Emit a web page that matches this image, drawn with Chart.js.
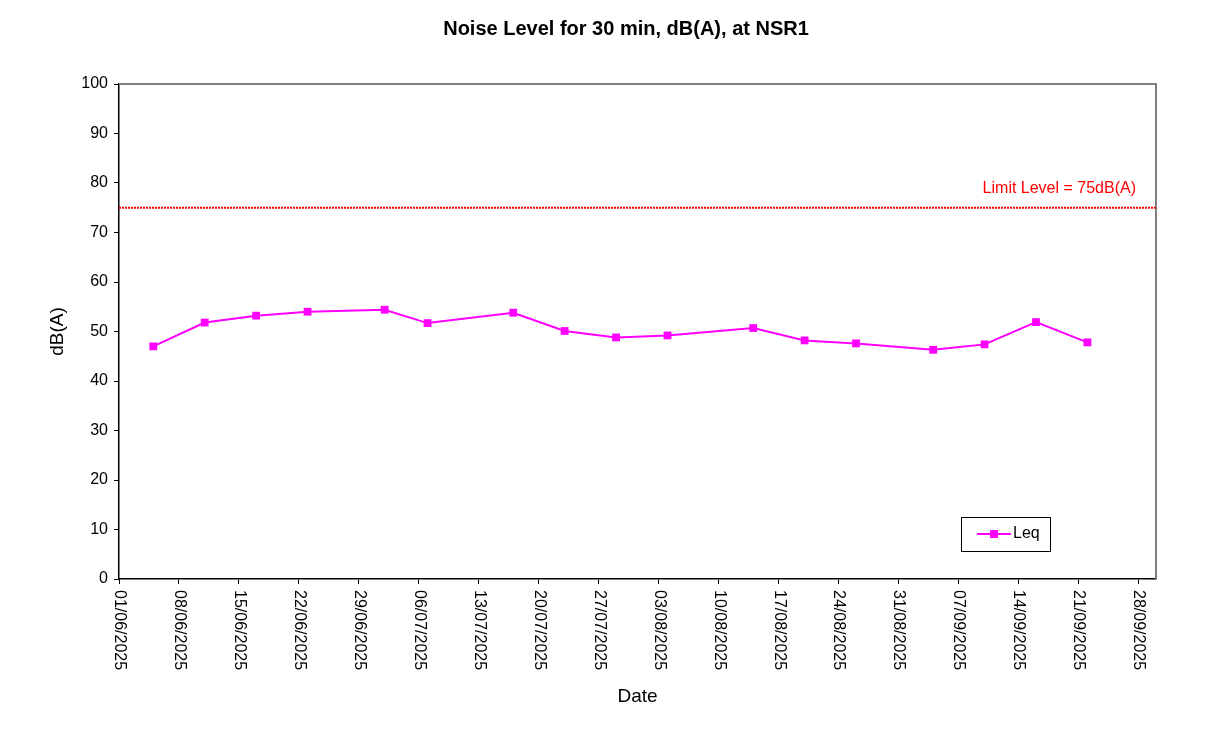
<!DOCTYPE html>
<html>
<head>
<meta charset="utf-8">
<title>Noise Level for 30 min, dB(A), at NSR1</title>
<script src="https://cdn.jsdelivr.net/npm/chart.js@4/dist/chart.umd.min.js"></script>
<style>
  html, body { margin: 0; padding: 0; background: #fff; }
  canvas { display: block; }
</style>
</head>
<body>
<canvas id="noise" width="1208" height="736"></canvas>
<script>
// data
const sampleDates = ["05/06/2025", "11/06/2025", "17/06/2025", "23/06/2025", "02/07/2025", "07/07/2025",
    "17/07/2025", "23/07/2025", "29/07/2025", "04/08/2025", "14/08/2025", "20/08/2025",
    "26/08/2025", "04/09/2025", "10/09/2025", "16/09/2025", "22/09/2025"];
const leqValues = [47.0, 51.8, 53.2, 54.0, 54.4, 51.7, 53.8, 50.1, 48.8, 49.2, 50.7, 48.2,
    47.6, 46.3, 47.4, 51.9, 47.8];
const tickLabels = ["01/06/2025", "08/06/2025", "15/06/2025", "22/06/2025", "29/06/2025", "06/07/2025",
    "13/07/2025", "20/07/2025", "27/07/2025", "03/08/2025", "10/08/2025", "17/08/2025",
    "24/08/2025", "31/08/2025", "07/09/2025", "14/09/2025", "21/09/2025", "28/09/2025"];
const axisStart = "01/06/2025";
const axisEnd = "30/09/2025";
const limitLevel = 75;
const yTicks = [0, 10, 20, 30, 40, 50, 60, 70, 80, 90, 100];

const FONT = "'Liberation Sans', Arial, sans-serif";

// dd/mm/yyyy -> days since axisStart
function toDay(s) {
    const p = s.split("/");
    const t = Date.UTC(+p[2], +p[1] - 1, +p[0]);
    const q = axisStart.split("/");
    const t0 = Date.UTC(+q[2], +q[1] - 1, +q[0]);
    return Math.round((t - t0) / 86400000);
}

const xMin = toDay(axisStart);
const xMax = toDay(axisEnd);

const leqPoints = sampleDates.map((d, i) => ({ x: toDay(d), y: leqValues[i] }));
const limitPoints = [{ x: xMin, y: limitLevel }, { x: xMax, y: limitLevel }];

const decorations = {
    id: "decorations",
    beforeDatasetsDraw(chart) {
        const ctx = chart.ctx;
        const a = chart.chartArea;
        ctx.save();
        ctx.strokeStyle = "#808080";
        ctx.lineWidth = 2;
        ctx.beginPath();
        ctx.moveTo(a.left, a.top);
        ctx.lineTo(a.right, a.top);
        ctx.lineTo(a.right, a.bottom);
        ctx.stroke();
        ctx.restore();
    },
    afterDraw(chart) {
        const ctx = chart.ctx;
        const a = chart.chartArea;
        const xs = chart.scales.x;
        const ys = chart.scales.y;
        ctx.save();

        // title
        ctx.fillStyle = "#000";
        ctx.font = "bold 20px " + FONT;
        ctx.textAlign = "center";
        ctx.textBaseline = "middle";
        ctx.fillText("Noise Level for 30 min, dB(A), at NSR1", 626, 29);

        // x tick labels, reading top to bottom
        ctx.font = "16px " + FONT;
        ctx.textAlign = "left";
        tickLabels.forEach((lab) => {
            const px = xs.getPixelForValue(toDay(lab));
            ctx.save();
            ctx.translate(px, a.bottom + 11);
            ctx.rotate(Math.PI / 2);
            ctx.fillText(lab, 0, 0);
            ctx.restore();
        });

        // limit label
        ctx.fillStyle = "#FF0000";
        ctx.textAlign = "right";
        ctx.font = "16px " + FONT;
        ctx.fillText("Limit Level = " + limitLevel + "dB(A)", 1136, ys.getPixelForValue(limitLevel) - 19);

        // legend
        const ds = chart.data.datasets[0];
        ctx.strokeStyle = "#000";
        ctx.lineWidth = 1;
        ctx.strokeRect(961.5, 517.5, 89, 34);
        ctx.strokeStyle = ds.borderColor;
        ctx.lineWidth = 2;
        ctx.beginPath();
        ctx.moveTo(977, 534);
        ctx.lineTo(1011, 534);
        ctx.stroke();
        ctx.fillStyle = ds.pointBackgroundColor;
        ctx.fillRect(990, 530, 8, 8);
        ctx.fillStyle = "#000";
        ctx.textAlign = "left";
        ctx.fillText(ds.label, 1013, 534);

        ctx.restore();
    }
};

new Chart(document.getElementById("noise"), {
    type: "line",
    data: {
        datasets: [
            {
                label: "Leq",
                data: leqPoints,
                borderColor: "#FF00FF",
                backgroundColor: "#FF00FF",
                pointBackgroundColor: "#FF00FF",
                pointBorderColor: "#FF00FF",
                borderWidth: 2,
                pointStyle: "rect",
                pointRadius: 5.5,
                pointBorderWidth: 0,
                tension: 0,
            },
            {
                label: "Limit",
                data: limitPoints,
                borderColor: "#FF0000",
                borderWidth: 2,
                borderDash: [2, 1],
                pointRadius: 0,
                tension: 0,
            },
        ],
    },
    options: {
        responsive: false,
        devicePixelRatio: 1,
        animation: false,
        layout: { padding: { left: 0, top: 84, right: 52, bottom: 28 } },
        plugins: {
            legend: { display: false },
            title: { display: false },
            tooltip: { enabled: false },
        },
        scales: {
            x: {
                type: "linear",
                min: xMin,
                max: xMax,
                afterBuildTicks: (scale) => {
                    scale.ticks = tickLabels.map((l) => ({ value: toDay(l) }));
                },
                afterFit: (scale) => { scale.height = 129; },
                ticks: { display: false },
                grid: { drawOnChartArea: false, drawTicks: true, tickLength: 5, color: "#000" },
                border: { color: "#000", width: 1.5 },
                title: {
                    display: true,
                    text: "Date",
                    color: "#000",
                    font: { family: FONT, size: 19 },
                    padding: { top: 0, bottom: 0 },
                },
            },
            y: {
                min: 0,
                max: 100,
                afterBuildTicks: (scale) => {
                    scale.ticks = yTicks.map((v) => ({ value: v }));
                },
                afterFit: (scale) => { scale.width = 119; },
                ticks: { color: "#000", padding: 6, font: { family: FONT, size: 16 } },
                grid: { drawOnChartArea: false, drawTicks: true, tickLength: 5, color: "#000" },
                border: { color: "#000", width: 1.5 },
                title: {
                    display: true,
                    text: "dB(A)",
                    color: "#000",
                    font: { family: FONT, size: 19 },
                    padding: { top: 46, bottom: 0 },
                },
            },
        },
    },
    plugins: [decorations],
});
</script>
</body>
</html>
